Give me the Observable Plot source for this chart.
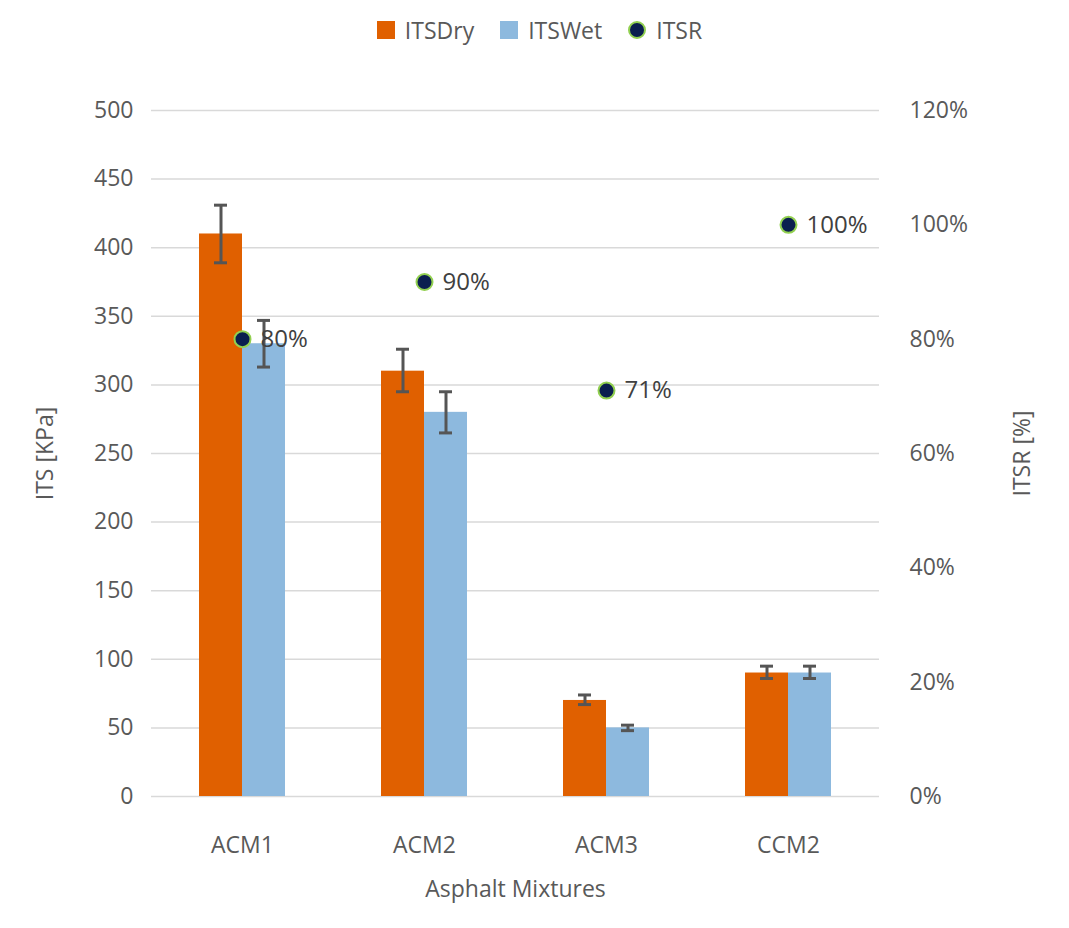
<!DOCTYPE html>
<html><head><meta charset="utf-8">
<script src="https://cdn.jsdelivr.net/npm/d3@7"></script>
<script src="https://cdn.jsdelivr.net/npm/@observablehq/plot@0.6"></script>
<style>
body{margin:0;background:#fff;font-family:"Open Sans",sans-serif;color:#595959}
#legend{height:60px;display:flex;justify-content:center;align-items:center;gap:26px;font-size:23px;padding-left:10px}
.it{display:flex;align-items:center;gap:10px}
.sw{width:18px;height:18px}
.dt{width:14px;height:14px;border-radius:50%;background:#0b1f4f;border:2px solid #92d050}
</style></head><body>
<div id="legend">
<div class="it"><div class="sw" style="background:#e06000"></div>ITSDry</div>
<div class="it"><div class="sw" style="background:#8db9de"></div>ITSWet</div>
<div class="it"><div class="dt"></div>ITSR</div>
</div>
<div id="chart"></div>
<script>
const categories = ["ACM1","ACM2","ACM3","CCM2"];
const series = ["ITSDry","ITSWet"];
const itsDry = [410,310,70,90];
const itsDryLo = [389,295,67,86];
const itsDryHi = [431,326,74,95];
const itsWet = [330,280,50,90];
const itsWetLo = [313,265,48,86];
const itsWetHi = [347,295,52,95];
const itsr = [80,90,71,100];
const rightTicks = [0,20,40,60,80,100,120];
const leftTicks = [0,50,100,150,200,250,300,350,400,450,500];

const k = 500/120;
const bars = [];
categories.forEach((c,i)=>{
  bars.push({cat:c,s:"ITSDry",v:itsDry[i],lo:itsDryLo[i],hi:itsDryHi[i]});
  bars.push({cat:c,s:"ITSWet",v:itsWet[i],lo:itsWetLo[i],hi:itsWetHi[i]});
});
const pts = categories.map((c,i)=>({cat:c,p:itsr[i],y:itsr[i]*k}));

const chart = Plot.plot({
  width:1069, height:870,
  marginLeft:150, marginRight:189, marginTop:50, marginBottom:134,
  style:{fontFamily:"Open Sans, sans-serif",fontSize:"23px",color:"#595959"},
  fx:{domain:categories,padding:0,label:null},
  x:{domain:series,padding:0,paddingOuter:1.1,axis:null},
  y:{domain:[0,500]},
  color:{domain:series,range:["#e06000","#8db9de"]},
  marks:[
    Plot.ruleY(leftTicks,{stroke:"#d9d9d9",strokeWidth:1.5}),
    Plot.axisY(leftTicks,{anchor:"left",tickSize:0,tickPadding:18,label:"ITS [KPa]",labelAnchor:"center",labelArrow:"none",labelOffset:115}),
    Plot.axisY(rightTicks.map(t=>t*k),{anchor:"right",tickSize:0,tickPadding:30,tickFormat:d=>Math.round(d/k)+"%",label:"ITSR [%]",labelAnchor:"center",labelArrow:"none",labelOffset:150}),
    Plot.axisFx({anchor:"bottom",tickSize:0,tickPadding:40,label:"Asphalt Mixtures",labelAnchor:"center",labelArrow:"none",labelOffset:100}),
    Plot.barY(bars,{fx:"cat",x:"s",y:"v",fill:"s"}),
    Plot.ruleX(bars,{fx:"cat",x:"s",y1:"lo",y2:"hi",stroke:"#555",strokeWidth:3}),
    Plot.tickY(bars,{fx:"cat",x:"s",y:"lo",stroke:"#555",strokeWidth:3,insetLeft:15,insetRight:15}),
    Plot.tickY(bars,{fx:"cat",x:"s",y:"hi",stroke:"#555",strokeWidth:3,insetLeft:15,insetRight:15}),
    Plot.dot(pts,{fx:"cat",y:"y",r:8,fill:"#0b1f4f",stroke:"#92d050",strokeWidth:2}),
    Plot.text(pts,{fx:"cat",y:"y",text:d=>d.p+"%",dx:18,textAnchor:"start",fill:"#404040",fontSize:24})
  ]
});
document.getElementById("chart").appendChild(chart);
</script></body></html>
